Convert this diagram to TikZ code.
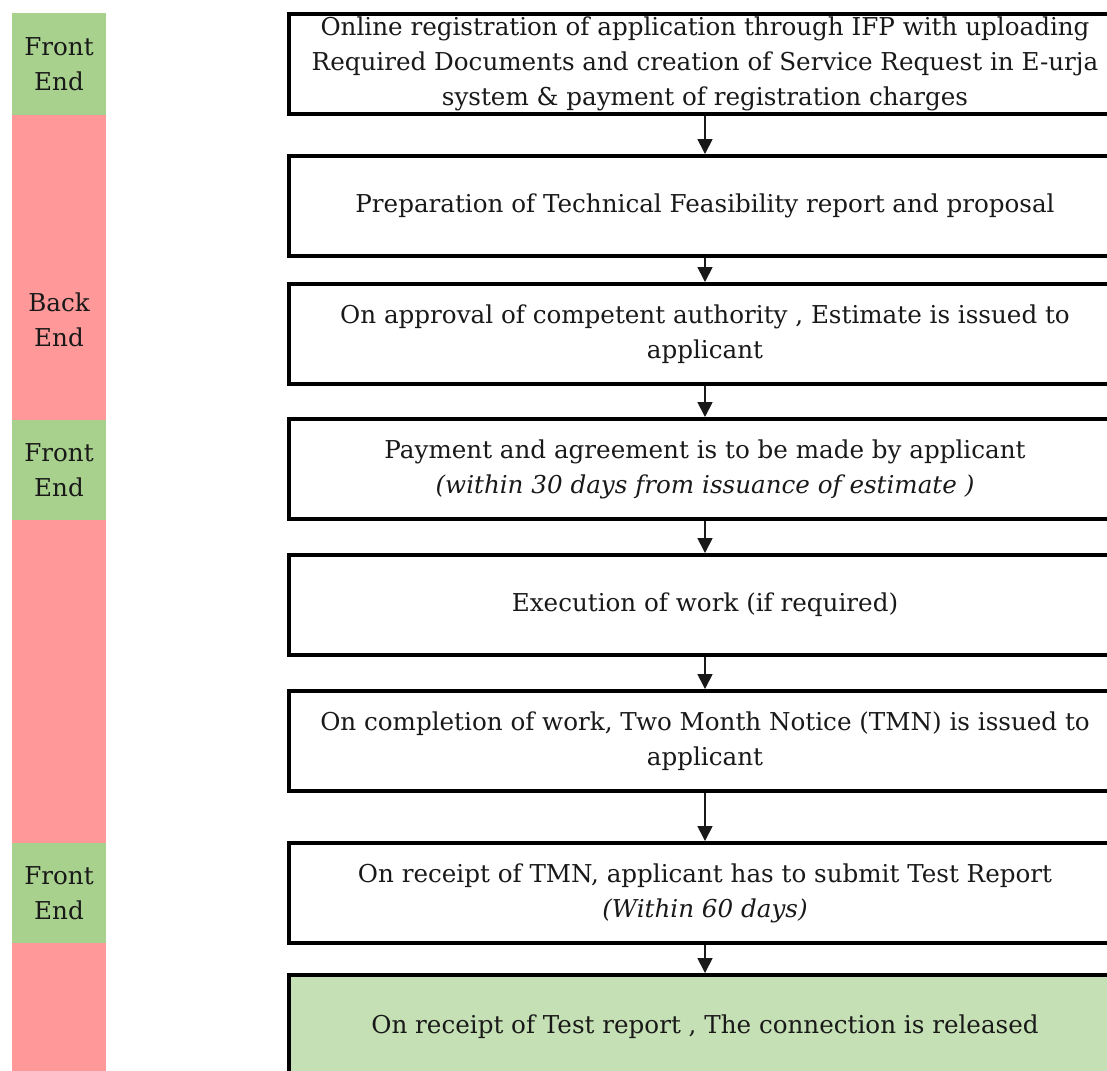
\documentclass[tikz,border=0pt]{standalone}
\usepackage{tikz}
\usepackage{fontspec}
\setmainfont{DejaVu Serif}
\usetikzlibrary{arrows.meta, positioning}
\definecolor{frontgreen}{RGB}{169, 209, 142}
\definecolor{backred}{RGB}{255, 153, 153}
\definecolor{donegreen}{RGB}{197, 224, 180}
\tikzset{
    stepbox/.style={rectangle, draw=black, line width=2.8pt, fill=white,
                    minimum width=20.8cm, minimum height=2.5cm, inner sep=0pt,
                    align=center, text=black!90, font=\fontsize{17.5}{25}\selectfont},
    donebox/.style={stepbox, fill=donegreen},
    frontbar/.style={rectangle, fill=frontgreen, minimum width=2.35cm, inner sep=0pt,
                     align=center, text=black!90, font=\fontsize{17.5}{25}\selectfont},
    backbar/.style={rectangle, fill=backred, minimum width=2.35cm, inner sep=0pt},
    barlabel/.style={align=center, text=black!90, font=\fontsize{17.5}{25}\selectfont},
    arrow/.style={-{Triangle[length=3.75mm, width=3.75mm]}, line width=1.2pt, black!90},
}
\begin{document}
\begin{tikzpicture}[x=0.025cm, y=-0.025cm]
    \path[use as bounding box, clip] (0,0) rectangle (1107,1071);
    % front end / back end bar
    \node[frontbar, minimum height=2.55cm] (fe1) at (59,64) {Front\\End};
    \node[backbar, minimum height=7.625cm] (be1) at (59,267.5) {};
    \node[frontbar, minimum height=2.5cm] (fe2) at (59,470) {Front\\End};
    \node[backbar, minimum height=8.075cm] (be2) at (59,681.5) {};
    \node[frontbar, minimum height=2.5cm] (fe3) at (59,893) {Front\\End};
    \node[backbar, minimum height=3.3cm] (be3) at (59,1009) {};
    \node[barlabel] (belabel) at (59,320) {Back\\End};
    % process steps
    \node[stepbox] (reg) at (705,64) {Online registration of application through  IFP with uploading\\Required Documents and creation of Service Request  in E-urja\\system \& payment of registration charges};
    \node[stepbox] (tfr) at (705,206) {Preparation of Technical Feasibility report  and proposal};
    \node[stepbox] (est) at (705,334) {On approval of competent authority , Estimate is issued to\\applicant};
    \node[stepbox] (pay) at (705,469) {Payment and agreement is to be made by applicant\\\textit{(within 30 days from issuance of estimate )}};
    \node[stepbox] (exec) at (705,605) {Execution of work (if required)};
    \node[stepbox] (tmn) at (705,741) {On  completion of work, Two Month Notice (TMN) is issued to\\applicant};
    \node[stepbox] (test) at (705,893) {On receipt of TMN, applicant has to submit Test Report\\\textit{(Within 60 days)}};
    \node[donebox, minimum height=2.6cm] (release) at (705,1027) {On receipt of Test report , The connection is released};
    \draw[arrow] (reg) -- (tfr);
    \draw[arrow] (tfr) -- (est);
    \draw[arrow] (est) -- (pay);
    \draw[arrow] (pay) -- (exec);
    \draw[arrow] (exec) -- (tmn);
    \draw[arrow] (tmn) -- (test);
    \draw[arrow] (test) -- (release);
\end{tikzpicture}
\end{document}
